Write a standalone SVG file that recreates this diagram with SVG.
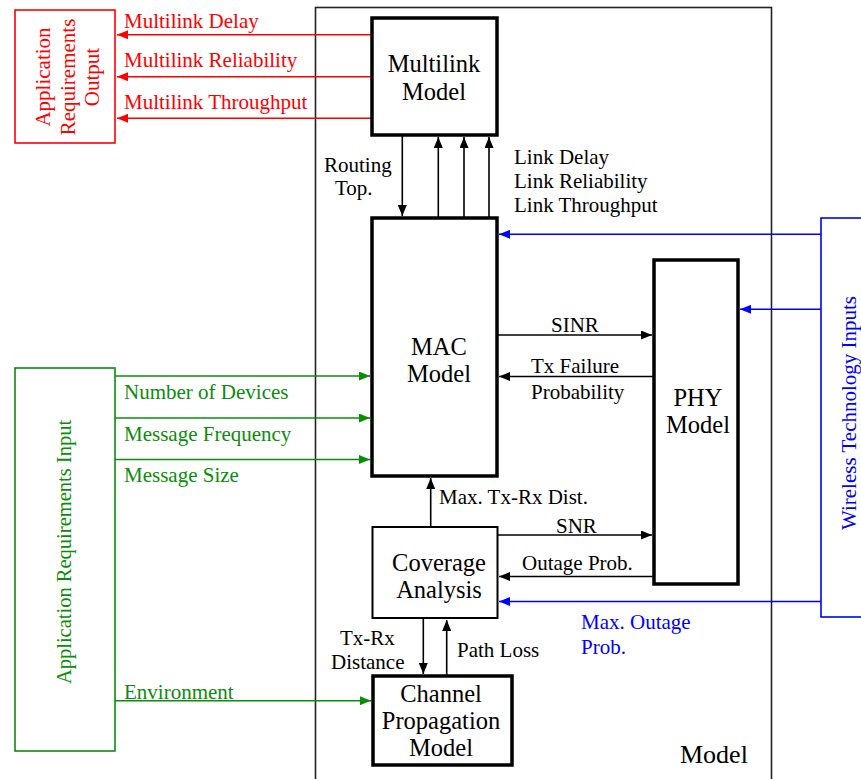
<svg xmlns="http://www.w3.org/2000/svg" width="861" height="779" viewBox="0 0 861 779">
<defs>
<marker id="ak" markerUnits="userSpaceOnUse" markerWidth="11" markerHeight="9" refX="11" refY="4.5" orient="auto"><path d="M0,0 L11,4.5 L0,9 z" fill="#000"/></marker>
<marker id="ar" markerUnits="userSpaceOnUse" markerWidth="11" markerHeight="9" refX="11" refY="4.5" orient="auto"><path d="M0,0 L11,4.5 L0,9 z" fill="#ff0000"/></marker>
<marker id="ag" markerUnits="userSpaceOnUse" markerWidth="11" markerHeight="9" refX="11" refY="4.5" orient="auto"><path d="M0,0 L11,4.5 L0,9 z" fill="#0b8c0b"/></marker>
<marker id="ab" markerUnits="userSpaceOnUse" markerWidth="11" markerHeight="9" refX="11" refY="4.5" orient="auto"><path d="M0,0 L11,4.5 L0,9 z" fill="#0000ff"/></marker>
</defs>
<style>
text{font-family:"Liberation Serif","Times New Roman",serif;}
.nl{font-size:24.5px;fill:#000;text-anchor:middle;}
.el{font-size:21px;fill:#000;}
.red{fill:#ff0000;}
.grn{fill:#0b8c0b;}
.blu{fill:#0000ff;}
.box{fill:#fff;stroke:#000;stroke-width:3.5;}
.k{stroke:#000;stroke-width:1.6;fill:none;marker-end:url(#ak);}
.r{stroke:#ff0000;stroke-width:1.6;fill:none;marker-end:url(#ar);}
.g{stroke:#0b8c0b;stroke-width:1.6;fill:none;marker-end:url(#ag);}
.b{stroke:#0000ff;stroke-width:1.6;fill:none;marker-end:url(#ab);}
</style>
<rect width="861" height="779" fill="#fff"/>
<g id="model-frame">
<rect x="315.5" y="7.5" width="456" height="800" fill="none" stroke="#222" stroke-width="1.6"/>
<text x="680" y="763" style="font-size:26px">Model</text>
</g>
<g id="connectors">
<line class="r" x1="372" y1="34.7" x2="117" y2="34.7"/>
<line class="r" x1="372" y1="76.7" x2="117" y2="76.7"/>
<line class="r" x1="372" y1="118.3" x2="117" y2="118.3"/>
<line class="k" x1="402.3" y1="135" x2="402.3" y2="216"/>
<line class="k" x1="438.3" y1="218" x2="438.3" y2="137"/>
<line class="k" x1="464" y1="218" x2="464" y2="137"/>
<line class="k" x1="489" y1="218" x2="489" y2="137"/>
<line class="b" x1="821" y1="234.3" x2="499" y2="234.3"/>
<line class="b" x1="821" y1="309.3" x2="740" y2="309.3"/>
<line class="b" x1="821" y1="601.5" x2="499" y2="601.5"/>
<line class="k" x1="498" y1="335" x2="652" y2="335"/>
<line class="k" x1="654" y1="376.5" x2="499" y2="376.5"/>
<line class="k" x1="430.7" y1="527" x2="430.7" y2="478"/>
<line class="k" x1="498" y1="535" x2="652" y2="535"/>
<line class="k" x1="654" y1="576.5" x2="499" y2="576.5"/>
<line class="k" x1="423.3" y1="618" x2="423.3" y2="674"/>
<line class="k" x1="446.7" y1="676" x2="446.7" y2="620"/>
<line class="g" x1="115" y1="376" x2="370" y2="376"/>
<line class="g" x1="115" y1="418" x2="370" y2="418"/>
<line class="g" x1="115" y1="459.5" x2="370" y2="459.5"/>
<line class="g" x1="115" y1="700.7" x2="371" y2="700.7"/>
<text class="el red" x="124" y="28">Multilink Delay</text>
<text class="el red" x="124" y="67">Multilink Reliability</text>
<text class="el red" x="124" y="108.5">Multilink Throughput</text>
<text class="el" x="324" y="172">Routing</text>
<text class="el" x="335" y="195">Top.</text>
<text class="el" x="514" y="163.5">Link Delay</text>
<text class="el" x="514" y="188">Link Reliability</text>
<text class="el" x="514" y="212">Link Throughput</text>
<text class="el" x="551" y="332">SINR</text>
<text class="el" x="531" y="373">Tx Failure</text>
<text class="el" x="531" y="399">Probability</text>
<text class="el" x="439" y="503.5">Max. Tx-Rx Dist.</text>
<text class="el" x="556" y="533">SNR</text>
<text class="el" x="522" y="570">Outage Prob.</text>
<text class="el blu" x="581" y="628.5">Max. Outage</text>
<text class="el blu" x="581" y="653.5">Prob.</text>
<text class="el" x="340" y="645">Tx-Rx</text>
<text class="el" x="331" y="669">Distance</text>
<text class="el" x="457" y="657">Path Loss</text>
<text class="el grn" x="124" y="399">Number of Devices</text>
<text class="el grn" x="124" y="441">Message Frequency</text>
<text class="el grn" x="124" y="482">Message Size</text>
<text class="el grn" x="124" y="698.5">Environment</text>
</g>
<g id="app-req-output">
<rect x="15" y="10" width="100" height="133" fill="#fff" stroke="#ff0000" stroke-width="1.6"/>
<text class="red" style="font-size:21px;text-anchor:middle" transform="translate(49.5,77) rotate(-90)"><tspan x="0" y="0">Application</tspan><tspan x="0" y="25.5">Requirements</tspan><tspan x="0" y="49.5">Output</tspan></text>
</g>
<g id="app-req-input">
<rect x="15" y="368" width="100" height="383" fill="none" stroke="#0b8c0b" stroke-width="1.6"/>
<text class="grn" style="font-size:20.5px;text-anchor:middle" transform="translate(71,552) rotate(-90)">Application Requirements Input</text>
</g>
<g id="wireless-inputs">
<rect x="821" y="218" width="60" height="399" fill="none" stroke="#0000ff" stroke-width="1.6"/>
<text class="blu" style="font-size:21px;text-anchor:middle" transform="translate(856,413) rotate(-90)">Wireless Technology Inputs</text>
</g>
<g id="multilink-model">
<rect class="box" x="372" y="18" width="125" height="117"/>
<text class="nl"><tspan x="434" y="72">Multilink</tspan><tspan x="434" y="99.5">Model</tspan></text>
</g>
<g id="mac-model">
<rect class="box" x="372" y="218" width="125" height="258"/>
<text class="nl"><tspan x="439" y="354.5">MAC</tspan><tspan x="439" y="381.5">Model</tspan></text>
</g>
<g id="phy-model">
<rect class="box" x="654" y="260" width="84" height="324"/>
<text class="nl"><tspan x="698" y="405.5">PHY</tspan><tspan x="698" y="432.5">Model</tspan></text>
</g>
<g id="coverage-analysis">
<rect x="372.5" y="527" width="125" height="91" fill="#fff" stroke="#000" stroke-width="2"/>
<text class="nl"><tspan x="439" y="571">Coverage</tspan><tspan x="439" y="598">Analysis</tspan></text>
</g>
<g id="channel-propagation-model">
<rect class="box" x="373" y="676" width="139" height="89"/>
<text class="nl"><tspan x="441" y="702">Channel</tspan><tspan x="441" y="729">Propagation</tspan><tspan x="441" y="756">Model</tspan></text>
</g>
</svg>
